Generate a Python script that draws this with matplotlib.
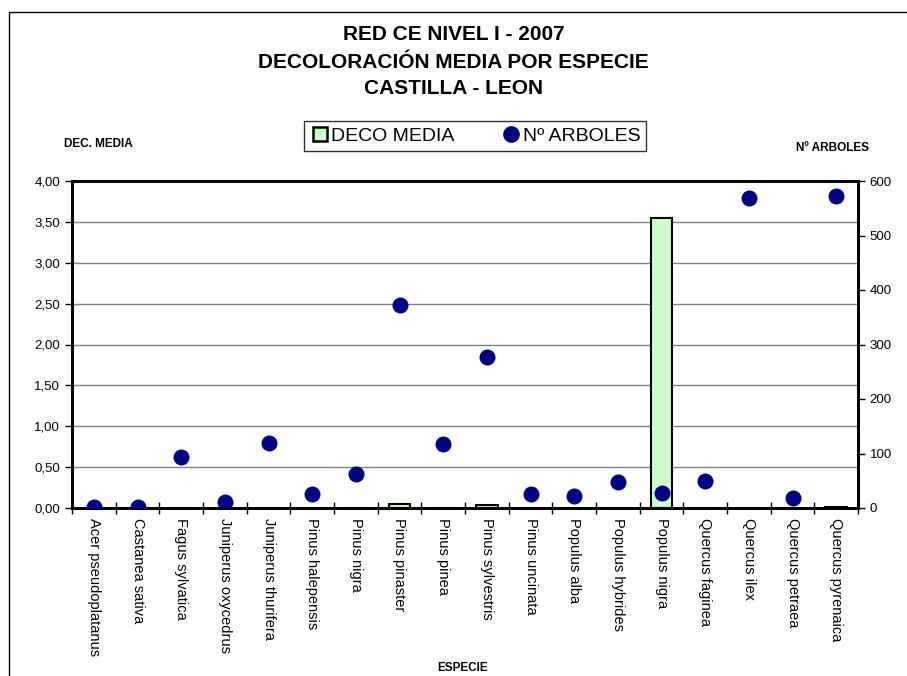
import matplotlib
matplotlib.use("Agg")
import matplotlib.pyplot as plt
from matplotlib.lines import Line2D
from matplotlib.patches import Rectangle
import numpy as np

plt.rcParams['font.family'] = ['Liberation Sans', 'DejaVu Sans']

species = ["Acer pseudoplatanus", "Castanea sativa", "Fagus sylvatica", "Juniperus oxycedrus",
           "Juniperus thurifera", "Pinus halepensis", "Pinus nigra", "Pinus pinaster",
           "Pinus pinea", "Pinus sylvestris", "Pinus uncinata", "Populus alba",
           "Populus hybrides", "Populus nigra", "Quercus faginea", "Quercus ilex",
           "Quercus petraea", "Quercus pyrenaica"]
deco_media = [0, 0, 0, 0, 0, 0, 0, 0.05, 0, 0.04, 0, 0, 0, 3.55, 0, 0, 0, 0.01]
n_arboles = [2, 1, 93, 11, 119, 25, 62, 372, 117, 277, 26, 22, 48, 28, 49, 569, 18, 572]
left_ticks = [0, 0.5, 1.0, 1.5, 2.0, 2.5, 3.0, 3.5, 4.0]
left_labels = ["0,00", "0,50", "1,00", "1,50", "2,00", "2,50", "3,00", "3,50", "4,00"]
right_ticks = [0, 100, 200, 300, 400, 500, 600]

fig = plt.figure(figsize=(9.07, 6.76), dpi=100)
fig.patches.append(Rectangle((9/907, -0.1), 1.2, (676-12)/676 + 0.1, transform=fig.transFigure,
                             fill=False, edgecolor='black', linewidth=1.0))

ax = fig.add_axes([72/907, 1-508/676, (858-72)/907, (508-181)/676])
x = np.arange(len(species))
ax.bar(x, deco_media, width=0.5, color='#CCFFCC', edgecolor='black', linewidth=1.5, zorder=2)
ax.set_xlim(-0.5, len(species) - 0.5)
ax.set_ylim(0, 4)
ax.set_yticks(left_ticks)
ax.set_yticklabels(left_labels, fontsize=9.5)
for t in left_ticks[1:-1]:
    ax.axhline(t, color='#808080', linewidth=1.0, zorder=1)
ax.set_xticks(np.arange(-0.5, len(species), 1.0))
ax.set_xticklabels([])
ax.set_xticks(x, minor=True)
ax.set_xticklabels(species, minor=True, rotation=-90, fontsize=10.5, va='top', ha='center')
ax.tick_params(axis='x', which='minor', length=0, pad=7)
ax.tick_params(axis='x', which='major', direction='inout', length=8, width=1)
ax.tick_params(axis='y', direction='out', length=5, width=1)
for s in ax.spines.values():
    s.set_linewidth(2)

ax2 = ax.twinx()
ax2.plot(x, n_arboles, linestyle='none', marker='o', markersize=10.5, color='#000080', zorder=3)
ax2.set_ylim(0, 600)
ax2.set_yticks(right_ticks)
ax2.set_yticklabels([str(v) for v in right_ticks], fontsize=9.5)
ax2.tick_params(axis='y', direction='out', length=5, width=1)
for s in ax2.spines.values():
    s.set_linewidth(2)

fig.text(0.5, 1-35/676, "RED CE NIVEL I - 2007", ha='center', va='center', fontsize=15, fontweight='bold')
fig.text(0.5, 1-62/676, "DECOLORACIÓN MEDIA POR ESPECIE", ha='center', va='center', fontsize=15, fontweight='bold')
fig.text(0.5, 1-89/676, "CASTILLA - LEON", ha='center', va='center', fontsize=15, fontweight='bold')
fig.text(98/907, 1-144/676, "DEC. MEDIA", ha='center', va='center', fontsize=8.5, fontweight='bold')
fig.text(832/907, 1-148/676, "Nº ARBOLES", ha='center', va='center', fontsize=8.5, fontweight='bold')
fig.text(463/907, 1-668/676, "ESPECIE", ha='center', va='center', fontsize=8.5, fontweight='bold')

handles = [Line2D([], [], linestyle='none', marker='s', markersize=9.5, markerfacecolor='#CCFFCC',
                  markeredgecolor='black', markeredgewidth=1.8, label='DECO MEDIA'),
           Line2D([], [], linestyle='none', marker='o', markersize=11, color='#000080', label='Nº ARBOLES')]
leg = fig.legend(handles=handles, loc='center', bbox_to_anchor=(475/907, 1-136/676), ncol=2,
                 fontsize=14, frameon=True, fancybox=False, edgecolor='black', handletextpad=0.1,
                 columnspacing=2.4, handlelength=1.0, borderpad=0.3, borderaxespad=0)
leg.get_frame().set_linewidth(1.0)

fig.savefig("out.png", dpi=100)
